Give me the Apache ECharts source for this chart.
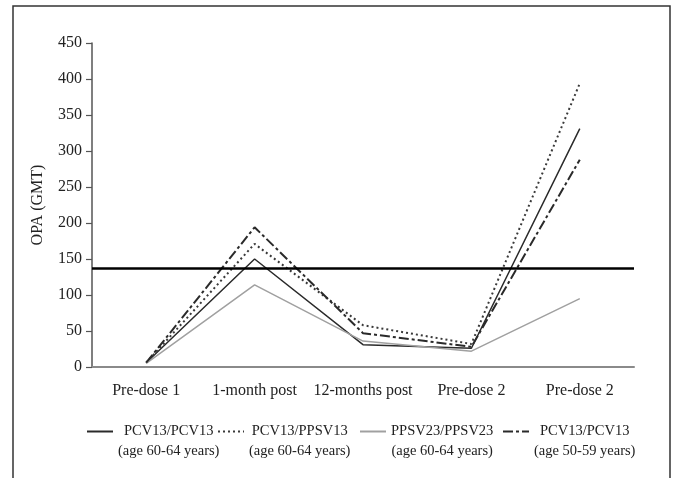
<!DOCTYPE html>
<html>
<head>
<meta charset="utf-8">
<script src="https://cdn.jsdelivr.net/npm/echarts@6/dist/echarts.min.js"></script>
<style>html,body{margin:0;padding:0;background:#fff}#c{width:677px;height:478px}</style>
</head>
<body>
<div id="c"></div>
<script>
var categories = ['Pre-dose 1', '1-month post', '12-months post', 'Pre-dose 2', 'Pre-dose 2'];
var seriesNames = ['PCV13/PCV13', 'PCV13/PPSV13', 'PPSV23/PPSV23', 'PCV13/PCV13'];
var seriesAges = ['(age 60-64 years)', '(age 60-64 years)', '(age 60-64 years)', '(age 50-59 years)'];
var pcv13Pcv13Age6064 = [6, 150, 31, 26, 331];
var pcv13Ppsv13Age6064 = [6, 171, 58, 32, 394];
var ppsv23Ppsv23Age6064 = [5, 114, 36, 22, 95];
var pcv13Pcv13Age5059 = [6, 194, 47, 28, 288];
var thresholdValue = 137;
var yTicks = [0, 50, 100, 150, 200, 250, 300, 350, 400, 450];

var FONT = "'Liberation Serif','DejaVu Serif',serif";
var values = [pcv13Pcv13Age6064, pcv13Ppsv13Age6064, ppsv23Ppsv23Age6064, pcv13Pcv13Age5059];
var lineStyles = [
  {color: '#2a2a2a', width: 1.5, type: 'solid'},
  {color: '#3a3a3a', width: 2, type: [2, 3]},
  {color: '#a0a0a0', width: 1.5, type: 'solid'},
  {color: '#2a2a2a', width: 2, type: [10, 3, 3, 3]}
];
var keys = seriesNames.map(function (n, i) { return n + ' ' + seriesAges[i]; });
var legendLefts = [86, 217, 359, 502];

var series = values.map(function (v, i) {
  var s = {
    name: keys[i],
    type: 'line',
    data: v,
    symbol: 'none',
    lineStyle: lineStyles[i],
    itemStyle: {color: lineStyles[i].color},
    z: 3
  };
  if (i === 0) {
    s.markLine = {
      silent: true,
      symbol: ['none', 'none'],
      label: {show: false},
      lineStyle: {color: '#000', width: 2.5, type: 'solid'},
      data: [{yAxis: thresholdValue}]
    };
  }
  return s;
});

var legends = keys.map(function (k, i) {
  return {
    left: legendLefts[i],
    top: 404,
    padding: 0,
    data: [k],
    itemWidth: 26,
    itemHeight: 14,
    itemGap: 0,
    selectedMode: false,
    itemStyle: {opacity: 0},
    formatter: function (name) {
      var j = keys.indexOf(name);
      return '{e| }\n{a|' + seriesNames[j] + '}\n{a|' + seriesAges[j] + '}';
    },
    textStyle: {
      fontFamily: FONT,
      fontSize: 14.5,
      color: '#222',
      rich: {
        e: {fontFamily: FONT, fontSize: 14.5, lineHeight: 20, align: 'center'},
        a: {fontFamily: FONT, fontSize: 14.5, lineHeight: 20, align: 'center', color: '#222'}
      }
    }
  };
});

var chart = echarts.init(document.getElementById('c'), null, {renderer: 'canvas'});
chart.setOption({
  animation: false,
  backgroundColor: '#fff',
  graphic: [{
    type: 'rect',
    shape: {x: 13, y: 6, width: 657, height: 490},
    style: {fill: 'none', stroke: '#333', lineWidth: 1.5},
    silent: true
  }],
  grid: {left: 92, right: 43, top: 43, bottom: 111, containLabel: false},
  legend: legends,
  xAxis: {
    type: 'category',
    data: categories,
    boundaryGap: true,
    axisLine: {lineStyle: {color: '#8a8a8a', width: 2}},
    axisTick: {show: false},
    axisLabel: {interval: 0, fontFamily: FONT, fontSize: 16, color: '#222', margin: 16}
  },
  yAxis: {
    type: 'value',
    min: yTicks[0],
    max: yTicks[yTicks.length - 1],
    interval: yTicks[1] - yTicks[0],
    name: 'OPA (GMT)',
    nameLocation: 'middle',
    nameGap: 46,
    nameTextStyle: {fontFamily: FONT, fontSize: 16, color: '#222'},
    axisLine: {show: true, lineStyle: {color: '#555', width: 1.5}},
    axisTick: {show: true, length: 6, lineStyle: {color: '#555', width: 1.2}},
    axisLabel: {fontFamily: FONT, fontSize: 16, color: '#222', margin: 10},
    splitLine: {show: false}
  },
  series: series
});
</script>
</body>
</html>
